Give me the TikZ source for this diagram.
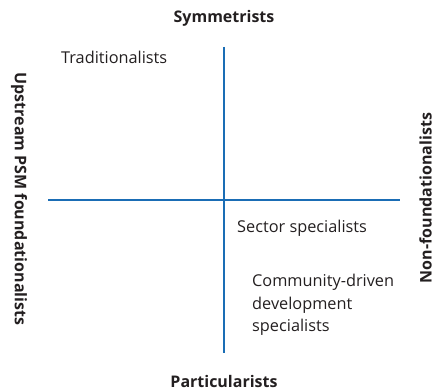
\documentclass[tikz,border=0pt]{standalone}
\usepackage{fontspec}
\setmainfont{Open Sans}
\definecolor{axisblue}{HTML}{1A6DB5}
\definecolor{txt}{HTML}{231F20}
\begin{document}
\begin{tikzpicture}[x=1pt,y=-1pt,
  axis/.style={draw=axisblue,line width=1.8pt},
  lab/.style={font=\fontsize{16.3}{22.5}\selectfont,text=txt,inner sep=0pt},
  head/.style={font=\fontsize{16}{20}\selectfont\bfseries,text=txt,inner sep=0pt}]
\useasboundingbox (0,0) rectangle (435,390);
\coordinate (vt) at (224,47);
\coordinate (vb) at (224,353);
\coordinate (hl) at (48,200);
\coordinate (hr) at (400,200);
\draw[axis] (vt) -- (vb);
\draw[axis] (hl) -- (hr);
\node[head] (sym) at (224,18) {Symmetrists};
\node[head] (par) at (224,381) {Particularists};
\node[head,rotate=-90] (ups) at (19,199) {Upstream PSM foundationalists};
\node[head,rotate=90] (non) at (425.5,198) {Non-foundationalists};
\node[lab,anchor=west] (tra) at (61,57) {Traditionalists};
\node[lab,anchor=west] (sec) at (237,228) {Sector specialists};
\node[lab,anchor=north west,align=left] (cdd) at (252,274) {Community-driven\\development\\specialists};
\end{tikzpicture}
\end{document}
